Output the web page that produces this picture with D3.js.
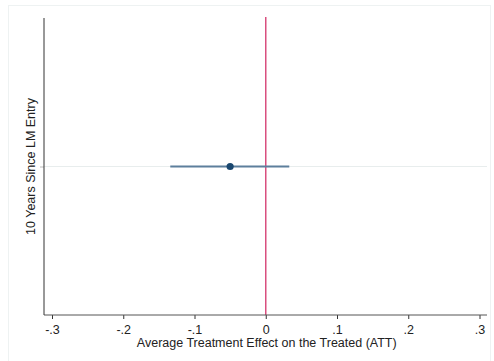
<!DOCTYPE html>
<html>
<head>
<meta charset="utf-8">
<script src="https://cdn.jsdelivr.net/npm/d3@7"></script>
<style>
  body { margin: 0; background: #fff; }
  text { font-family: "Liberation Sans", Arial, sans-serif; fill: #222; }
</style>
</head>
<body>
<div id="chart"></div>
<script>
// data
const categories = ['10 Years Since LM Entry'];
const estimates = [-0.05];
const ciLow = [-0.134];
const ciHigh = [0.033];
const xTicks = [-0.3, -0.2, -0.1, 0, 0.1, 0.2, 0.3];
const xTickLabels = ['-.3', '-.2', '-.1', '0', '.1', '.2', '.3'];

const width = 494, height = 361;
const plot = { left: 44, right: 487, top: 18, bottom: 315 };

const svg = d3.select('#chart').append('svg')
  .attr('width', width)
  .attr('height', height);

// faint outer frame
svg.append('rect')
  .attr('x', 8.5).attr('y', 5.5)
  .attr('width', 482).attr('height', 370)
  .attr('fill', 'none')
  .attr('stroke', '#eef2f2')
  .attr('stroke-width', 1);

const x = d3.scaleLinear().domain([-0.3, 0.3]).range([52, 479.5]);
const y = d3.scalePoint().domain(categories).range([plot.top, plot.bottom]).padding(0.5);

// gridline for category
svg.selectAll('.grid')
  .data(categories)
  .enter().append('line')
  .attr('x1', plot.left).attr('x2', plot.right)
  .attr('y1', d => y(d)).attr('y2', d => y(d))
  .attr('stroke', '#e8eded')
  .attr('stroke-width', 1);

// reference line at zero
svg.append('line')
  .attr('x1', x(0)).attr('x2', x(0))
  .attr('y1', plot.top - 1).attr('y2', plot.bottom)
  .attr('stroke', '#d94f7f')
  .attr('stroke-width', 1.5);

// confidence intervals
svg.selectAll('.ci')
  .data(categories)
  .enter().append('line')
  .attr('x1', (d, i) => x(ciLow[i]))
  .attr('x2', (d, i) => x(ciHigh[i]))
  .attr('y1', d => y(d)).attr('y2', d => y(d))
  .attr('stroke', '#5d7f9c')
  .attr('stroke-width', 2);

// point estimates
svg.selectAll('.pt')
  .data(categories)
  .enter().append('circle')
  .attr('cx', (d, i) => x(estimates[i]))
  .attr('cy', d => y(d))
  .attr('r', 3.6)
  .attr('fill', '#1a476f');

// x axis
const xAxis = d3.axisBottom(x)
  .tickValues(xTicks)
  .tickFormat((d, i) => xTickLabels[i])
  .tickSize(4)
  .tickPadding(6);

const gx = svg.append('g')
  .attr('transform', `translate(0,${plot.bottom})`)
  .call(xAxis);
gx.select('.domain').remove();
gx.append('line')
  .attr('x1', plot.left).attr('x2', plot.right)
  .attr('y1', 0).attr('y2', 0)
  .attr('stroke', '#555').attr('stroke-width', 1);
gx.selectAll('.tick line').attr('stroke', '#333');
gx.selectAll('.tick text')
  .style('font-size', '12.5px')
  .attr('fill', '#222');

// y axis
const yAxis = d3.axisLeft(y).tickSize(4).tickFormat('');
const gy = svg.append('g')
  .attr('transform', `translate(${plot.left},0)`)
  .call(yAxis);
gy.select('.domain').remove();
gy.append('line')
  .attr('x1', 0).attr('x2', 0)
  .attr('y1', plot.top).attr('y2', plot.bottom)
  .attr('stroke', '#333').attr('stroke-width', 1);
gy.selectAll('.tick line').attr('stroke', '#bbb');

// axis titles
svg.append('text')
  .attr('x', x(0) + 1)
  .attr('y', 347)
  .attr('text-anchor', 'middle')
  .style('font-size', '12.5px')
  .text('Average Treatment Effect on the Treated (ATT)');

svg.append('text')
  .attr('transform', `translate(35,${(plot.top + plot.bottom) / 2}) rotate(-90)`)
  .attr('text-anchor', 'middle')
  .style('font-size', '12.5px')
  .text(categories[0]);
</script>
</body>
</html>
